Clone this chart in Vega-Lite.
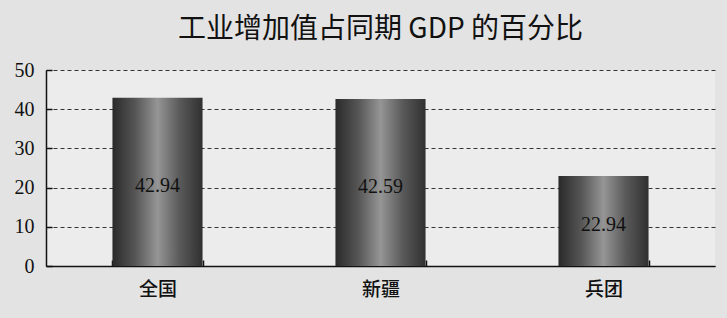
{
  "$schema": "https://vega.github.io/schema/vega-lite/v6.json",
  "autosize": "none",
  "width": 669,
  "height": 196,
  "padding": {"left": 46, "top": 70, "right": 12, "bottom": 52},
  "background": "#e3e3e3",
  "title": {
    "text": "工业增加值占同期 GDP 的百分比",
    "font": "Noto Sans CJK SC",
    "fontSize": 28,
    "fontWeight": "normal",
    "color": "#111111",
    "anchor": "middle",
    "offset": 16
  },
  "config": {
    "view": {"stroke": null, "fill": "#ececec"},
    "axisY": {
      "title": null,
      "values": [0, 10, 20, 30, 40, 50],
      "labelOverlap": false,
      "labelFont": "Liberation Serif",
      "labelFontSize": 20,
      "labelColor": "#111111",
      "labelPadding": 18,
      "domainColor": "#111111",
      "domainWidth": 1.5,
      "tickColor": "#111111",
      "tickSize": -6,
      "tickWidth": 1.5,
      "grid": true,
      "gridColor": "#333333",
      "gridDash": [4, 3],
      "gridWidth": 1
    }
  },
  "data": {
    "values": [
      {"region": "全国", "pct": 42.94},
      {"region": "新疆", "pct": 42.59},
      {"region": "兵团", "pct": 22.94}
    ]
  },
  "encoding": {
    "x": {
      "field": "region",
      "type": "nominal",
      "sort": null,
      "scale": {"paddingInner": 0.596, "paddingOuter": 0.298},
      "axis": {
        "title": null,
        "labelAngle": 0,
        "labelFont": "Noto Sans CJK SC",
        "labelFontSize": 19,
        "labelFontWeight": 500,
        "labelColor": "#111111",
        "labelPadding": 20,
        "domainColor": "#111111",
        "domainWidth": 1.5,
        "tickColor": "#111111",
        "tickBand": "extent",
        "tickSize": -6,
        "tickWidth": 1.5,
        "grid": false
      }
    }
  },
  "layer": [
    {
      "mark": {
        "type": "bar",
        "color": {
          "gradient": "linear",
          "x1": 0, "x2": 1, "y1": 0, "y2": 0,
          "stops": [
            {"offset": 0, "color": "#2a2a2a"},
            {"offset": 0.25, "color": "#555555"},
            {"offset": 0.5, "color": "#959595"},
            {"offset": 0.75, "color": "#595959"},
            {"offset": 1, "color": "#303030"}
          ]
        }
      },
      "encoding": {
        "y": {
          "field": "pct",
          "type": "quantitative",
          "title": null,
          "scale": {"domain": [0, 50], "nice": false}
        }
      }
    },
    {
      "mark": {
        "type": "text",
        "font": "Liberation Serif",
        "fontSize": 20,
        "color": "#111111",
        "baseline": "middle",
        "align": "center",
        "dy": 4
      },
      "transform": [{"calculate": "datum.pct / 2", "as": "mid"}],
      "encoding": {
        "y": {"field": "mid", "type": "quantitative", "title": null},
        "text": {"field": "pct", "type": "quantitative", "format": ".2f"}
      }
    }
  ]
}
